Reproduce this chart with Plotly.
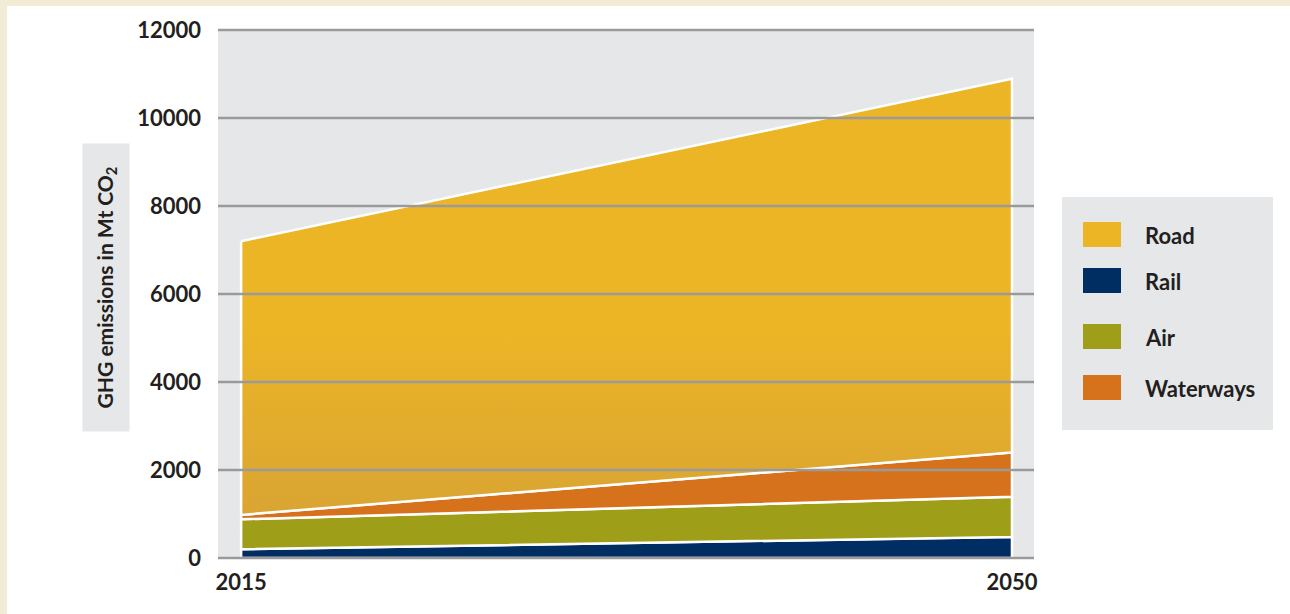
import plotly.graph_objects as go

# ---------------- data ----------------
years = [2015, 2050]
year_labels = ["2015", "2050"]
rail = [200, 480]
air = [680, 910]
waterways = [100, 1010]
road = [6220, 8490]
y_ticks = [0, 2000, 4000, 6000, 8000, 10000, 12000]
y_tick_labels = ["0", "2000", "4000", "6000", "8000", "10000", "12000"]
stack_order = ["Rail", "Air", "Waterways", "Road"]
legend_order = ["Road", "Rail", "Air", "Waterways"]
values = {"Rail": rail, "Air": air, "Waterways": waterways, "Road": road}

# ---------------- style ----------------
colors = {"Road": "#ecb526", "Rail": "#002d62", "Air": "#9e9e19", "Waterways": "#d7721c"}
FONT = "Lato, 'Open Sans', sans-serif"
TXT = "#231f20"
PLOT_BG = "#e6e7e9"
CREAM = "#f2ebd5"
GRID = "#9a9a9a"

W, H = 1290, 614
L, R, T, B = 218, 1034, 30, 558


def px(x):
    return (x - L) / (R - L)


def py(y):
    return (B - y) / (B - T)


fig = go.Figure()

bottom = [0] * len(years)
for name in stack_order:
    top = [b + v for b, v in zip(bottom, values[name])]
    xs = years + years[::-1] + [years[0]]
    ys = top + bottom[::-1] + [top[0]]
    kw = dict(fillcolor=colors[name])
    if name == "Road":
        kw["fillgradient"] = dict(type="vertical",
                                  colorscale=[[0, "#d9a433"], [1, "#ecb526"]],
                                  start=900, stop=5200)
    fig.add_trace(go.Scatter(
        x=xs, y=ys, mode="lines", fill="toself", name=name,
        line=dict(color="white", width=2.5), showlegend=False,
        hoverinfo="skip", **kw))
    bottom = top

# gridlines drawn above the areas
shapes = []
for v in y_ticks:
    shapes.append(dict(type="line", xref="paper", yref="paper", x0=0, x1=1,
                       y0=v / y_ticks[-1], y1=v / y_ticks[-1],
                       line=dict(color=GRID, width=2.5), layer="above"))

# cream frame strips (top and left)
shapes.append(dict(type="rect", xref="paper", yref="paper", x0=px(0), x1=px(W),
                   y0=py(0), y1=py(6), fillcolor=CREAM, line=dict(width=0), layer="below"))
shapes.append(dict(type="rect", xref="paper", yref="paper", x0=px(0), x1=px(7),
                   y0=py(H), y1=py(0), fillcolor=CREAM, line=dict(width=0), layer="below"))

# legend box
shapes.append(dict(type="rect", xref="paper", yref="paper", x0=px(1062), x1=px(1273),
                   y0=py(430), y1=py(197), fillcolor=PLOT_BG, line=dict(width=0), layer="below"))
sw_tops = [222, 268, 324, 375]
annotations = []
for name, t in zip(legend_order, sw_tops):
    shapes.append(dict(type="rect", xref="paper", yref="paper", x0=px(1083), x1=px(1121),
                       y0=py(t + 25), y1=py(t), fillcolor=colors[name], line=dict(width=0),
                       layer="above"))
    annotations.append(dict(xref="paper", yref="paper", x=px(1143), y=py(t + 13),
                            xanchor="left", yanchor="middle", showarrow=False, text=name,
                            font=dict(family=FONT, size=22, color=TXT, weight="bold")))

# y-axis title with grey box
annotations.append(dict(xref="paper", yref="paper", x=px(106), y=py(287),
                        xanchor="center", yanchor="middle", showarrow=False,
                        text="GHG emissions in Mt CO<sub>2</sub>", textangle=-90,
                        bgcolor=PLOT_BG, width=285, height=44,
                        font=dict(family=FONT, size=21, color=TXT, weight="bold")))

fig.update_layout(
    width=W, height=H,
    margin=dict(l=L, r=W - R, t=T, b=H - B, pad=0),
    paper_bgcolor="white", plot_bgcolor=PLOT_BG,
    shapes=shapes, annotations=annotations,
    showlegend=False,
    xaxis=dict(range=[2013.95, 2051.0], tickvals=years, ticktext=year_labels,
               showgrid=False, zeroline=False, showline=False, ticks="",
               ticklabelstandoff=9,
               tickfont=dict(family=FONT, size=22, color=TXT, weight="bold")),
    yaxis=dict(range=[0, 12000], tickvals=y_ticks, ticktext=y_tick_labels,
               showgrid=False, zeroline=False, showline=False, ticks="",
               ticklabelstandoff=16,
               tickfont=dict(family=FONT, size=22, color=TXT, weight="bold")),
)

fig.write_html("out.html", config={"displayModeBar": False},
               post_script="document.body.style.margin='0';document.body.style.padding='0';")
